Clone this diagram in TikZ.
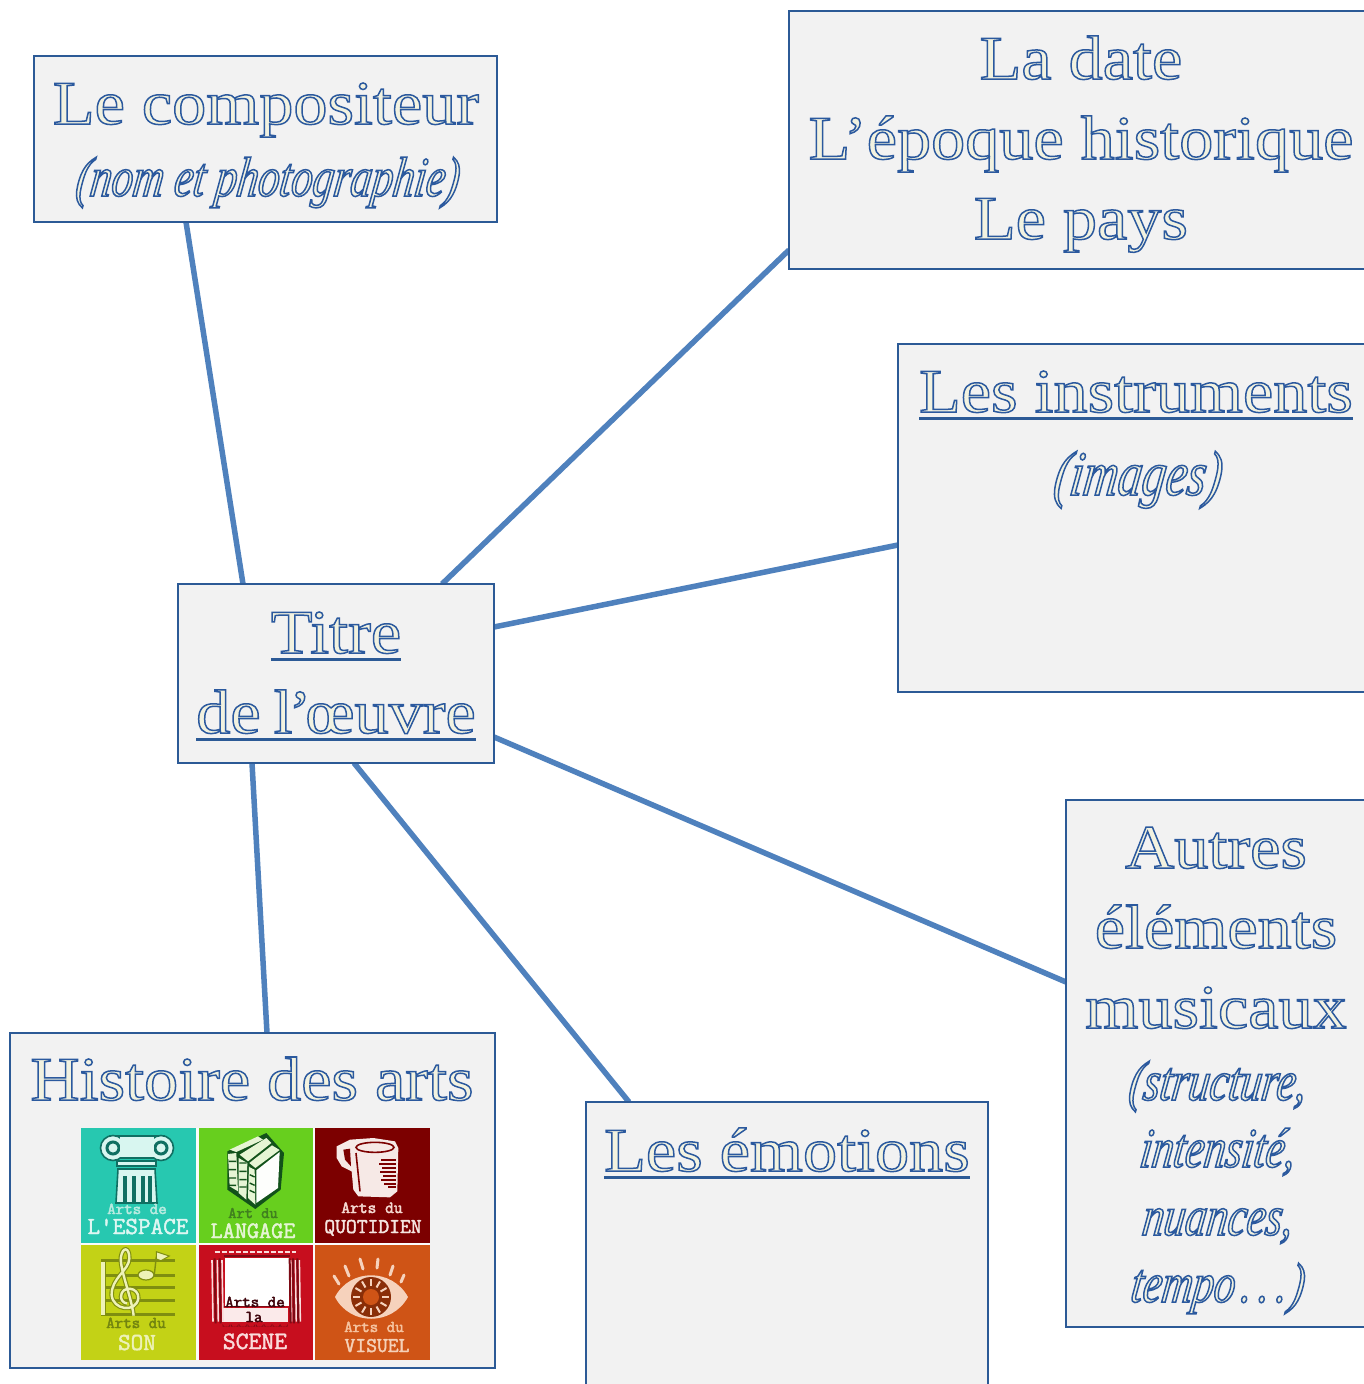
\documentclass[tikz,border=0pt]{standalone}
\usepackage{fontspec}
\setmainfont{Liberation Serif}
\newfontfamily\headfont[FakeStretch=1.1]{Liberation Serif}
\newfontfamily\notefont[FakeStretch=0.76,FakeSlant=0.14]{Liberation Serif Italic}
\usetikzlibrary{calc}
\pgfdeclarelayer{under}
\pgfsetlayers{under,main}
\definecolor{linkblue}{HTML}{4F81BD}
\definecolor{edgeblue}{HTML}{2C5A96}
\definecolor{panelgrey}{HTML}{F2F2F2}
\newcommand{\wrt}[1]{\special{pdf:code 2 Tr 1.5 w 0.17 0.35 0.62 RG 0.95 0.95 0.88 rg}#1\special{pdf:code 0 Tr 0 0 0 rg 0 0 0 RG 1 w}}
\newcommand{\hd}[1]{{\headfont\fontsize{62}{80}\selectfont\wrt{#1}}}
\newcommand{\nt}[1]{{\notefont\fontsize{56}{68}\selectfont\wrt{#1}}}
\newcommand{\ntbig}[1]{{\notefont\fontsize{63}{68}\selectfont\wrt{#1}}}
\newsavebox{\ulbox}
\newcommand{\hdu}[1]{\sbox{\ulbox}{\hd{#1}}\usebox{\ulbox}\llap{\color{edgeblue}\raisebox{-8pt}{\rule{\wd\ulbox}{3pt}}}}
\newcommand{\tw}[2]{\special{pdf:code 2 Tr 0.45 w #1 RG #1 rg}#2\special{pdf:code 0 Tr 0 0 0 rg 0 0 0 RG 1 w}}
\definecolor{tileA}{HTML}{27C8B0}
\definecolor{tileB}{HTML}{67CF1E}
\definecolor{tileC}{HTML}{7C0000}
\definecolor{tileD}{HTML}{C3D216}
\definecolor{tileE}{HTML}{C70E1E}
\definecolor{tileF}{HTML}{CF5416}
\definecolor{inkA}{HTML}{0F6F62}
\definecolor{inkB}{HTML}{12521A}
\definecolor{inkD}{HTML}{7F8E10}
\definecolor{inkE}{HTML}{7C0A14}
\definecolor{inkF}{HTML}{8A2E08}
\definecolor{paleA}{HTML}{D8F6F0}
\definecolor{paleB}{HTML}{E6F5D4}
\definecolor{paleC}{HTML}{F6E9E6}
\definecolor{paleD}{HTML}{EEF2B8}
\definecolor{paleE}{HTML}{F9DCDC}
\definecolor{paleF}{HTML}{F6D2BC}
\tikzset{
  x=1pt,y=-1pt,
  panel/.style={draw=edgeblue,fill=panelgrey,line width=2pt,inner sep=0pt,outer sep=0pt,anchor=north west},
  link/.style={draw=linkblue,line width=5.5pt},
  caption/.style={inner sep=0pt,anchor=base,align=center,font=\fontsize{62}{80}\selectfont},
  tile/.style={inner sep=0pt,outer sep=0pt,anchor=north west,minimum width=114.5pt,minimum height=114.5pt},
  tileword/.style={font=\ttfamily\fontsize{#1}{#1}\selectfont,inner sep=0pt,anchor=base},
  zoomed/.style={shift={#1},x=0.33333pt,y=-0.33333pt},
}
\begin{document}
\begin{tikzpicture}
\useasboundingbox (0,0) rectangle (1364,1384);
\clip (0,0) rectangle (1364,1384);
\begin{pgfonlayer}{under}
\fill[white] (0,0) rectangle (1364,1384);
\end{pgfonlayer}
% boxes
\node[panel,minimum width=463pt,minimum height=166pt] (comp) at (34,56) {};
\node[panel,minimum width=584pt,minimum height=258pt] (date) at (789,11) {};
\node[panel,minimum width=476pt,minimum height=348pt] (inst) at (898,344) {};
\node[panel,minimum width=316pt,minimum height=179pt] (titre) at (178,584) {};
\node[panel,minimum width=300pt,minimum height=527pt] (autres) at (1066,800) {};
\node[panel,minimum width=402pt,minimum height=320pt] (emo) at (586,1102) {};
\node[panel,minimum width=485pt,minimum height=335pt] (hist) at (10,1033) {};
% connectors
\begin{pgfonlayer}{under}
\draw[link] ([xshift=152pt]comp.south west) -- ([xshift=65pt]titre.north west);
\draw[link] ([yshift=19pt]date.south west) -- ([xshift=264pt]titre.north west);
\draw[link] ([yshift=147pt]inst.south west) -- ([yshift=-43pt]titre.north east);
\draw[link] ([yshift=-182pt]autres.north west) -- ([yshift=-153pt]titre.north east);
\draw[link] ([xshift=43pt]emo.north west) -- ([xshift=176pt]titre.south west);
\draw[link] ([xshift=257pt]hist.north west) -- ([xshift=74pt]titre.south west);
\end{pgfonlayer}
% texts
\node[caption] (t1) at (266,196) {\hd{Le compositeur}\\[-8pt]\nt{(nom et photographie)}};
\node[caption] (t2) at (1081,239) {\hd{La date}\\\hd{L’époque historique}\\\hd{Le pays}};
\node[caption] (t3) at (1136,495) {\hdu{Les instruments}\\[3pt]\ntbig{(images)}};
\node[caption] (t4) at (336,733) {\hdu{Titre}\\\hdu{de \kern-4pt l\kern-4pt’\kern-6pt œuvre}};
\node[caption] (t5) at (1216,1302) {\hd{Autres}\\\hd{éléments}\\\hd{musicaux}\\[-8pt]\nt{(structure,}\\[-13pt]\nt{intensité,}\\[-12pt]\nt{nuances,}\\[-13pt]\nt{tempo\kern6pt.\kern7pt.\kern7pt.\kern3pt)}};
\node[caption] (t6) at (787,1171) {\hdu{Les émotions}};
\node[caption] (t7) at (252,1100) {\hd{Histoire des arts}};
% tiles
\fill[white!70!panelgrey] (81,1128) rectangle (430,1360);
\node[tile,fill=tileA] (a) at (81,1128) {};
\node[tile,fill=tileB] (b) at (198.5,1128) {};
\node[tile,fill=tileC,minimum width=115pt] (c) at (315,1128) {};
\node[tile,fill=tileD,minimum height=115pt] (d) at (81,1245) {};
\node[tile,fill=tileE,minimum height=115pt] (e) at (198.5,1245) {};
\node[tile,fill=tileF,minimum width=115pt,minimum height=115pt] (f) at (315,1245) {};
% column
\begin{scope}[draw=inkA,line width=1.6pt]
\filldraw[fill=paleA] (110,1136) -- (164,1136) -- (158,1158) -- (116,1158) -- cycle;
\filldraw[fill=paleA] (113,1148) circle (12.5pt) (161,1148) circle (12.5pt);
\draw[line width=3pt] (113,1148) circle (6pt) (161,1148) circle (6pt);
\fill[paleA] (120,1137) rectangle (154,1157);
\draw (116,1135.5) -- (158,1135.5);
\filldraw[fill=paleA] (117,1161) rectangle (156,1166);
\filldraw[fill=paleA] (118,1169) -- (155,1169) -- (157,1203) -- (116,1203) -- cycle;
\foreach \fx in {125,134,143,150}
  \draw[line width=3.4pt] (\fx,1176) -- (\fx,1203);
\end{scope}
\node[tileword=16.5] (a1) at (137,1214) {\tw{0.72 0.92 0.88}{Arts de}};
\node[tileword=24.5] (a2) at (138,1234) {\tw{0.87 0.97 0.95}{L'ESPACE}};
% books
\begin{scope}[zoomed={(198,1128)},draw=inkB,line width=1.4pt]
\fill[inkB] (88,70) -- (205,15) -- (258,75) -- (248,185) -- (172,243) -- (88,185) -- cycle;
\fill[paleB] (95,65) -- (180,25) -- (195,35) -- (115,72) -- cycle;
\fill[paleB] (125,80) -- (205,30) -- (220,45) -- (150,100) -- cycle;
\fill[paleB] (154,105) -- (222,52) -- (245,66) -- (172,120) -- cycle;
\fill[paleB] (90,78) -- (115,75) -- (120,190) -- (95,175) -- cycle;
\fill[paleB] (122,90) -- (148,105) -- (145,215) -- (122,195) -- cycle;
\fill[white!92!paleB] (175,127) -- (245,72) -- (240,180) -- (175,225) -- cycle;
\fill[paleB] (153,115) -- (170,125) -- (172,230) -- (150,210) -- cycle;
\foreach \fy in {100,125,150,172}
  \draw (92,\fy) -- (114,\fy) (124,\fy+5) -- (146,\fy+5) (155,\fy+15) -- (170,\fy+22);
\end{scope}
\node[tileword=16] (b1) at (253,1218) {\tw{0.25 0.5 0.12}{Art du}};
\node[tileword=23.5] (b2) at (253,1238) {\tw{0.9 0.96 0.83}{LANGAGE}};
% mug
\begin{scope}[zoomed={(315,1128)}]
\fill[paleC] (65,55) -- (105,35) -- (175,30) -- (240,40) -- (250,60) -- (247,190) -- (225,208) -- (130,205) -- (115,185) -- (110,130) -- (80,115) -- (65,90) -- cycle;
\fill[tileC] (85,65) -- (105,62) -- (108,115) -- (90,95) -- cycle;
\draw[tileC,line width=1.6pt] (180,58) ellipse (57 and 15);
\draw[tileC,line width=1.6pt] (123,75) -- (135,190);
\foreach \fy/\fl in {95/45,107/50,119/42,131/48,143/40,155/46,167/36,178/25}
  \draw[tileC,line width=2pt] (243,\fy) -- ++(-\fl,0);
\end{scope}
\node[tileword=17] (c1) at (372,1213) {\tw{0.96 0.85 0.82}{Arts du}};
\node[tileword=21] (c2) at (373,1233) {\tw{0.96 0.9 0.88}{QUOTIDIEN}};
% music
\begin{scope}[zoomed={(81,1245)}]
\foreach \fy in {45,90,128,167,208}
  \draw[inkD,line width=3pt] (60,\fy) -- (282,\fy);
\fill[paleD] (60,50) rectangle (72,210);
\draw[inkD,line width=1pt] (74,50) -- (74,210);
\foreach \kase/\kw in {inkD/4.6pt,paleD/2.4pt}
  \draw[\kase,line width=\kw] (158,212) .. controls (150,150) and (115,70) .. (120,35) .. controls (125,5) and (145,5) .. (145,40) .. controls (145,75) and (90,100) .. (92,150) .. controls (95,195) and (165,205) .. (172,160) .. controls (175,125) and (120,120) .. (120,155) .. controls (120,165) and (128,175) .. (138,175);
\draw[inkD,line width=1.4pt] (220,88) -- (226,35);
\filldraw[fill=paleD,draw=inkD,line width=1.2pt] (195,90) ellipse (24 and 15);
\filldraw[fill=paleD,draw=inkD,line width=1pt] (226,20) -- (265,33) -- (240,47) -- (226,42) -- cycle;
\end{scope}
\node[tileword=16.5] (d1) at (136,1328) {\tw{0.45 0.52 0.06}{Arts du}};
\node[tileword=24.5] (d2) at (137,1350) {\tw{0.93 0.95 0.72}{SON}};
% stage
\begin{scope}[zoomed={(198,1245)}]
\fill[white] (80,38) rectangle (272,183);
\fill[paleE!60!white] (72,188) rectangle (270,232);
\foreach \fx in {85,110,135,160,185,210,235,258}
  \fill[inkE] (\fx-11,245) -- ++(0,-8) arc (180:0:11 and 9) -- ++(0,8) -- cycle;
\draw[inkE,line width=1.6pt] (72,185) -- (262,185);
\foreach \fx in {42,58,72,278,292,304}
  \draw[paleE,line width=1.6pt] (\fx,45) -- (\fx+3,230);
\foreach \fx in {50,65,275,285,298}
  \draw[inkE,line width=2pt] (\fx,40) -- (\fx+3,235);
\draw[paleE,line width=2pt,dash pattern=on 5pt off 2pt] (50,20) -- (295,20);
\draw[inkE,line width=2pt] (78,34) -- (275,34);
\end{scope}
\node[tileword=16.5] (e1) at (255,1307) {\tw{0.25 0.02 0.05}{Arts de}};
\node[tileword=16.5] (e2) at (254,1322) {\tw{0.25 0.02 0.05}{la}};
\node[tileword=25] (e3) at (255,1349) {\tw{0.98 0.86 0.86}{SCENE}};
% eye
\fill[paleF] (335,1297) .. controls (350,1268) and (392,1268) .. (408,1297) .. controls (392,1326) and (350,1326) .. (335,1297) -- cycle;
\fill[inkF] (371,1297) circle (20pt);
\fill[tileF] (371,1297) circle (8pt);
\foreach \a in {0,30,...,330}
  \draw[paleF,line width=2pt] (371,1297) ++(\a:11pt) -- ++(\a:7pt);
\foreach \rx/\ry/\qx/\qy in {334/1276/339/1284,345/1266/349/1276,360/1259/363/1269,378/1259/377/1268,393/1266/390/1275,404/1275/401/1282}
  \draw[paleF,line width=3pt,line cap=round] (\rx,\ry) -- (\qx,\qy);
\node[tileword=16.5] (f1) at (374,1332) {\tw{0.96 0.76 0.62}{Arts du}};
\node[tileword=21] (f2) at (377,1352) {\tw{0.96 0.82 0.72}{VISUEL}};
\end{tikzpicture}
\end{document}
